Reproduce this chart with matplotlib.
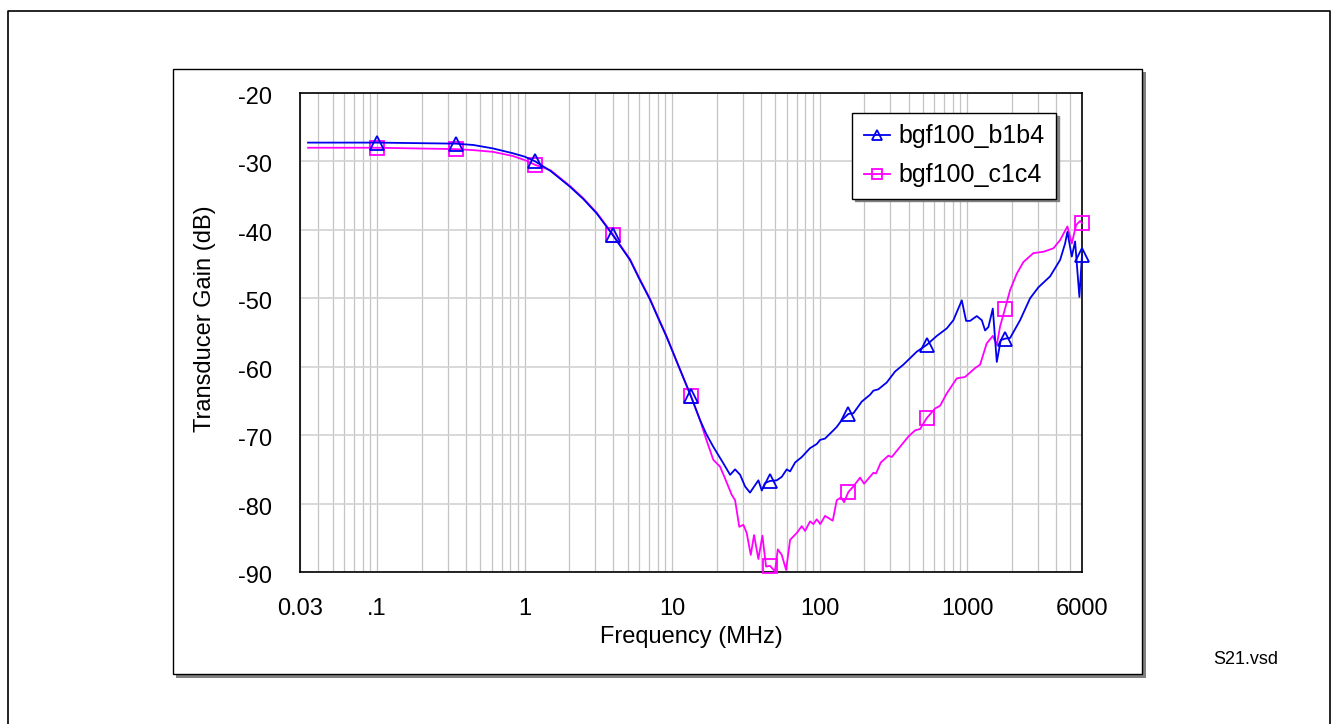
import numpy as np
import matplotlib
matplotlib.use('Agg')
import matplotlib.pyplot as plt
from matplotlib.patches import Rectangle
from matplotlib.lines import Line2D
from matplotlib.ticker import FixedLocator, NullFormatter
from matplotlib.transforms import ScaledTranslation

# ---------------- data ----------------
freq_b1b4 = [0.034, 0.1, 0.34, 0.45, 0.61, 0.83, 1.0, 1.18, 1.5, 2.03, 2.5, 3.08, 3.97, 4.5,
             5.18, 6.0, 7.08, 8.0, 9.19, 11.0, 13.4, 15.45, 17.0, 19.0, 22.2, 24.7, 26.7,
             28.9, 31.2, 33.7, 38.4, 40.5, 42.6, 46,
             51.2, 55.3, 59.8, 63.0, 68.1, 75.6, 86.0, 95.5, 100.6, 108.7, 123.8, 130.5,
             141.1, 156.5, 169.2, 192.8, 219.5, 231.2, 249.9, 284.9, 324.3, 369.2, 455.1,
             532, 622, 727, 806, 919, 983, 1046, 1161, 1256, 1322, 1392, 1491, 1587, 1689,
             1806, 1953, 2283, 2669, 3037, 3646, 4262, 4608, 4776, 5117, 5386, 5761, 6000]
gain_b1b4 = [-27.25, -27.25, -27.4, -27.6, -28.1, -28.8, -29.3, -30.0, -31.4, -33.7, -35.5,
             -37.6, -40.8, -42.5, -44.4, -47.2, -50.2, -52.8, -55.7, -59.8, -64.3, -67.8,
             -69.8, -71.7, -74.1, -75.8, -75.0, -75.8, -77.5, -78.4,
             -76.6, -78.1, -77.0, -76.7, -76.6, -76.1, -75.0, -75.3, -74.0, -73.2, -71.9,
             -71.3, -70.7, -70.5, -69.3, -68.8, -67.8, -66.9, -66.8, -65.1, -64.1, -63.5,
             -63.3, -62.3, -60.7, -59.7, -57.8, -56.8, -55.5, -54.4, -53.2, -50.3, -53.3,
             -53.3, -52.6, -53.2, -54.7, -54.2, -51.5, -59.3, -56.1, -55.9, -55.8, -53.2,
             -50.0, -48.4, -46.8, -44.4, -42.0, -40.3, -43.9, -41.7, -49.8, -43.7]

freq_c1c4 = [0.034, 0.1, 0.34, 0.45, 0.61, 0.83, 1.0, 1.18, 1.5, 2.03, 2.5, 3.08, 3.97, 4.5,
             5.18, 6.0, 7.08, 8.0, 9.19, 11.0, 13.4, 15.45, 17.0, 19.0, 21.1, 22.8, 25.3,
             26.7, 28.5, 30.4, 32.0, 34.1, 35.9, 38.4, 40.9,
             43.3, 46, 49.8, 52.0, 55.3, 59.2, 63.0, 69.9, 75.6, 79.6, 86.0, 90.6, 95.5, 101,
             108.7, 122.6, 130.5, 139.7, 146.3, 156.5, 169.2, 187.8, 199.9, 231.2, 241.1,
             259.4, 292.2, 308, 350.6, 399.4, 443.2, 479.2, 532, 605.7, 655, 727, 850, 967,
             1131, 1223, 1355, 1491, 1587, 1671, 1806, 1953, 2168, 2403, 2809, 3284, 3838,
             4262, 4776, 5117, 5471, 5825, 6000]
gain_c1c4 = [-28.0, -28.0, -28.2, -28.35, -28.6, -29.2, -29.8, -30.5, -31.3, -33.6, -35.4,
             -37.5, -40.7, -42.4, -44.3, -47.1, -50.1, -52.7, -55.6, -59.8, -64.3, -67.8,
             -70.6, -73.6, -74.6, -76.3, -78.7, -79.5, -83.4, -83.1, -84.3,
             -87.5, -84.6, -88.1, -84.7, -89.2, -89.1, -89.9, -86.7, -87.5, -89.7, -85.3,
             -84.3, -83.3, -84.0, -82.6, -83.0, -82.3, -83.0, -81.8, -82.5, -79.5, -79.1,
             -79.8, -78.3, -77.5, -76.2, -77.1, -75.5, -75.6, -74.0, -73.0, -73.2, -71.7,
             -70.2, -69.3, -69.1, -67.5, -66.1, -65.7, -63.9, -61.7, -61.5, -60.2, -59.7,
             -56.6, -55.5, -56.8, -54.1, -51.5, -48.8, -46.4, -44.7, -43.4, -43.2, -42.7,
             -41.5, -39.5, -42.0, -39.3, -38.7, -39.0]

marker_freqs = [0.1, 0.34, 1.18, 3.97, 13.4, 46, 156.5, 532, 1806, 6000]
series_labels = ['bgf100_b1b4', 'bgf100_c1c4']
x_ticks = [0.03, 0.1, 1, 10, 100, 1000, 6000]
x_tick_labels = ['0.03', '.1', '1', '10', '100', '1000', '6000']
y_ticks = [-90, -80, -70, -60, -50, -40, -30, -20]
y_tick_labels = ['-90', '-80', '-70', '-60', '-50', '-40', '-30', '-20']

# ---------------- figure ----------------
plt.rcParams['font.family'] = ['Liberation Sans', 'DejaVu Sans']
W, H = 1331, 724
fig = plt.figure(figsize=(W / 100, H / 100), dpi=100)
fig.patch.set_facecolor('white')

def fx(px):
    return px / W

def fy(py):
    return 1 - py / H

# outer border (left, top, right)
fig.add_artist(Line2D([fx(7.5), fx(7.5), fx(1329.5), fx(1329.5)],
                      [fy(724), fy(10.5), fy(10.5), fy(724)],
                      color='black', lw=1.2, zorder=-5))
# panel shadow + panel
fig.add_artist(Rectangle((fx(176), fy(678)), (1146 - 176) / W, (678 - 72) / H,
                         facecolor='#808080', edgecolor='none', zorder=-4))
fig.add_artist(Rectangle((fx(172.5), fy(673.5)), (1141.5 - 172.5) / W, (673.5 - 68.5) / H,
                         facecolor='white', edgecolor='black', lw=1.0, zorder=-3))

ax = fig.add_axes([fx(300), fy(572), 782 / W, 479 / H])
ax.set_zorder(2)
ax.set_facecolor('white')
ax.set_xscale('log')
ax.set_xlim(0.03, 6000)
ax.set_ylim(-90, -20)

ax.set_xticks(x_ticks)
ax.set_xticklabels(x_tick_labels)
minor = [k * 10.0 ** d for d in range(-2, 4) for k in range(1, 10)]
minor = [m for m in minor if 0.03 < m < 6000 and m not in x_ticks]
ax.xaxis.set_minor_locator(FixedLocator(minor))
ax.xaxis.set_minor_formatter(NullFormatter())
ax.set_yticks(y_ticks)
ax.set_yticklabels(y_tick_labels)

ax.grid(True, which='major', axis='x', color='#c4c4c4', lw=0.9, zorder=0)
ax.grid(True, which='minor', axis='x', color='#c4c4c4', lw=0.9, zorder=0)
ax.grid(True, which='major', axis='y', color='#d2d2d2', lw=1.2, zorder=0)
ax.set_axisbelow(True)

ax.tick_params(axis='both', which='both', length=0, labelsize=17)
ax.tick_params(axis='x', pad=18.5)
ax.tick_params(axis='y', pad=20)
shift = ScaledTranslation(0, -2.5 / 100, fig.dpi_scale_trans)
for lab in ax.get_yticklabels():
    lab.set_transform(lab.get_transform() + shift)
for s in ax.spines.values():
    s.set_color('black')
    s.set_linewidth(1.2)

def mark_idx(freqs):
    return [i for i, f in enumerate(freqs) if f in marker_freqs]

l1, = ax.plot(freq_b1b4, gain_b1b4, color='#0000ee', lw=1.3, marker='^', ms=10,
              markevery=mark_idx(freq_b1b4), mfc='none', mec='#0000ee', mew=1.3,
              clip_on=False, zorder=4, label=series_labels[0])
l2, = ax.plot(freq_c1c4, gain_c1c4, color='#ff00ff', lw=1.3, marker='s', ms=10,
              markevery=mark_idx(freq_c1c4), mfc='none', mec='#ff00ff', mew=1.3,
              clip_on=False, zorder=3, label=series_labels[1])

leg = ax.legend(handles=[l1, l2], loc='upper right', bbox_to_anchor=(0.9668, 0.958),
                borderaxespad=0, frameon=True, fancybox=False, framealpha=1,
                edgecolor='black', shadow={'color': '#808080', 'alpha': 1},
                fontsize=18, handlelength=1.05, handletextpad=0.35, markerscale=0.75,
                borderpad=0.45, labelspacing=0.6)
leg.get_frame().set_linewidth(1.0)
leg.set_zorder(10)

fig.text(fx(691), fy(637), 'Frequency (MHz)', ha='center', va='center', fontsize=17)
fig.text(fx(205), fy(319), 'Transducer Gain (dB)', ha='center', va='center',
         rotation=90, fontsize=17)
fig.text(fx(1246), fy(660), 'S21.vsd', ha='center', va='center', fontsize=13)

fig.savefig('out.png', dpi=100)
